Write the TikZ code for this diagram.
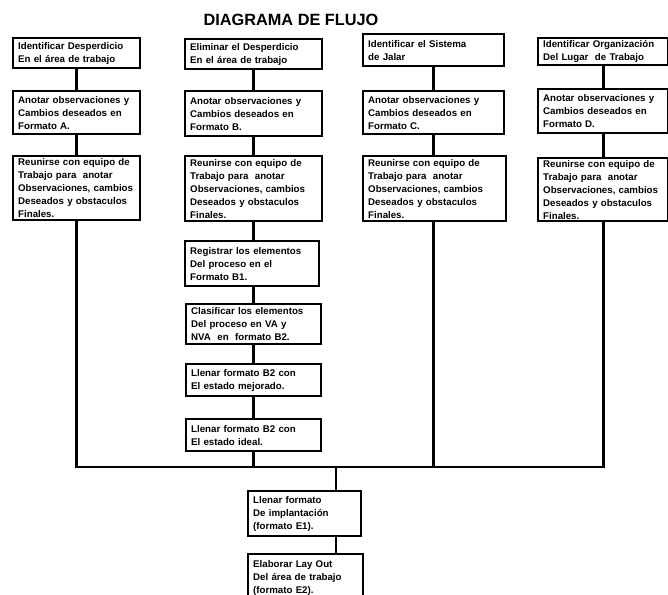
\documentclass[tikz,border=0pt]{standalone}
\usepackage{fontspec}
\setmainfont{Liberation Sans}
\begin{document}
\begin{tikzpicture}[x=1pt,y=-1pt,
  box/.style={draw, line width=2.4pt, anchor=north west, inner xsep=5pt, inner ysep=1pt,
    align=left, font=\bfseries\fontsize{9.7}{13}\selectfont},
  conn/.style={draw, line width=2.6pt, line join=miter},
  titlestyle/.style={font=\bfseries\fontsize{16.3}{18}\selectfont}]
\useasboundingbox (0,0) rectangle (668,594);
\clip (0,0) rectangle (668,594);
\node[titlestyle] (title) at (291,20) {DIAGRAMA DE FLUJO};
% column A
\node[box, text width=117pt, minimum height=30pt] (A1) at (12,37) {Identificar Desperdicio\\En el área de trabajo};
\node[box, text width=117pt, minimum height=43pt] (A2) at (12,90) {Anotar observaciones y\\Cambios deseados en\\Formato A.};
\node[box, text width=117pt, minimum height=64pt] (A3) at (12,155) {Reunirse con equipo de\\Trabajo para\ \ anotar\\Observaciones, cambios\\Deseados y obstaculos\\Finales.};
% column B
\node[box, text width=127pt, minimum height=30pt] (B1) at (184,38) {Eliminar el Desperdicio\\En el área de trabajo};
\node[box, text width=127pt, minimum height=45pt] (B2) at (184,90) {Anotar observaciones y\\Cambios deseados en\\Formato B.};
\node[box, text width=127pt, minimum height=65pt] (B3) at (184,155) {Reunirse con equipo de\\Trabajo para\ \ anotar\\Observaciones, cambios\\Deseados y obstaculos\\Finales.};
\node[box, text width=124pt, minimum height=45pt] (B4) at (184,240) {Registrar los elementos\\Del proceso en el\\Formato B1.};
\node[box, text width=125pt, minimum height=40pt] (B5) at (185,303) {Clasificar los elementos\\Del proceso en VA y\\NVA\ \ en\ \ formato B2.};
\node[box, text width=125pt, minimum height=32pt] (B6) at (185,363) {Llenar formato B2 con\\El estado mejorado.};
\node[box, text width=125pt, minimum height=32pt] (B7) at (185,418) {Llenar formato B2 con\\El estado ideal.};
% column C
\node[box, text width=131pt, minimum height=32pt] (C1) at (362,33) {Identificar el Sistema\\de Jalar};
\node[box, text width=131pt, minimum height=43pt] (C2) at (362,90) {Anotar observaciones y\\Cambios deseados en\\Formato C.};
\node[box, text width=133pt, minimum height=65pt] (C3) at (362,155) {Reunirse con equipo de\\Trabajo para\ \ anotar\\Observaciones, cambios\\Deseados y obstaculos\\Finales.};
% column D
\node[box, text width=120pt, minimum height=27pt] (D1) at (537,37) {Identificar Organización\\Del Lugar\ \ de Trabajo};
\node[box, text width=120pt, minimum height=44pt] (D2) at (537,88) {Anotar observaciones y\\Cambios deseados en\\Formato D.};
\node[box, text width=120pt, minimum height=63pt] (D3) at (537,157) {Reunirse con equipo de\\Trabajo para\ \ anotar\\Observaciones, cambios\\Deseados y obstaculos\\Finales.};
% bottom
\node[box, text width=103pt, minimum height=45pt] (E1) at (247,490) {Llenar formato\\De implantación\\(formato E1).};
\node[box, text width=105pt, minimum height=47pt] (E2) at (247,553) {Elaborar Lay Out\\Del área de trabajo\\(formato E2).};
% connectors
\draw[conn] (A1.south) -- (A2.north);
\draw[conn] (A2.south) -- (A3.north);
\draw[conn] (B1.south) -- (B2.north);
\draw[conn] (B2.south) -- (B3.north);
\draw[conn] (B3.south) -- (B3.south |- B4.north);
\draw[conn] (B3.south |- B4.south) -- (B3.south |- B5.north);
\draw[conn] (B3.south |- B5.south) -- (B3.south |- B6.north);
\draw[conn] (B3.south |- B6.south) -- (B3.south |- B7.north);
\draw[conn] (C1.south) -- (C1.south |- C2.north);
\draw[conn] (C1.south |- C2.south) -- (C1.south |- C3.north);
\draw[conn] (D1.south) -- (D2.north);
\draw[conn] (D2.south) -- (D3.north);
\coordinate (busL) at (A3.south |- 0,467);
\coordinate (busR) at (D3.south |- 0,467);
\coordinate (jn) at (336,467);
\draw[conn] (A3.south) -- (busL) -- (busR) -- (D3.south);
\draw[conn] (B3.south |- B7.south) -- (B3.south |- busL);
\draw[conn] (C1.south |- C3.south) -- (C1.south |- busL);
\draw[conn] (jn) -- (jn |- E1.north);
\draw[conn] (jn |- E1.south) -- (jn |- E2.north);
\end{tikzpicture}
\end{document}
